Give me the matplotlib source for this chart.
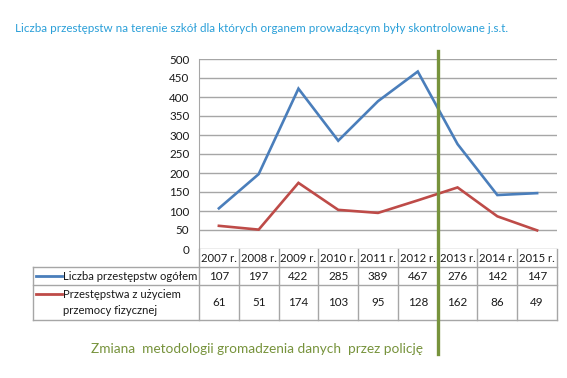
import matplotlib.pyplot as plt
from matplotlib.transforms import blended_transform_factory

# dane
lata = ['2007 r.', '2008 r.', '2009 r.', '2010 r.', '2011 r.', '2012 r.', '2013 r.', '2014 r.', '2015 r.']
ogolem = [107, 197, 422, 285, 389, 467, 276, 142, 147]
przemoc = [61, 51, 174, 103, 95, 128, 162, 86, 49]
nazwy = ['Liczba przestępstw ogółem', 'Przestępstwa z użyciem\nprzemocy fizycznej']
kolory = ['#4A7EBB', '#BE4B48']

tytul = 'Liczba przestępstw na terenie szkół dla których organem prowadzącym były skontrolowane j.s.t.'
podpis = 'Zmiana  metodologii gromadzenia danych  przez policję'

plt.rcParams['font.family'] = ['Lato', 'DejaVu Sans']

W, H = 567, 378
fig = plt.figure(figsize=(W / 100, H / 100), dpi=100)

# obszar wykresu w pikselach
x0, x1, ytop, ybot = 199, 557, 59, 249
ax = fig.add_axes([x0 / W, 1 - ybot / H, (x1 - x0) / W, (ybot - ytop) / H])
n = len(lata)
xs = list(range(n))
ax.plot(xs, ogolem, color=kolory[0], lw=1.9, solid_joinstyle='miter')
ax.plot(xs, przemoc, color=kolory[1], lw=1.9, solid_joinstyle='miter')
ax.set_xlim(-0.5, n - 0.5)
ax.set_ylim(0, 500)
ax.set_yticks(range(0, 501, 50))
ax.set_xticks([])
ax.grid(axis='y', color='#A6A6A6', lw=1.0)
ax.set_axisbelow(True)
for s in ['top', 'right', 'bottom']:
    ax.spines[s].set_visible(False)
ax.spines['left'].set_color('#A6A6A6')
ax.tick_params(axis='y', length=0, pad=7, labelsize=8.4, labelcolor='#1A1A1A')

# tabela pod wykresem
tr = blended_transform_factory(ax.transData, fig.transFigure)
def fy(py):
    return 1 - py / H
def fx(px):
    return px / W

szary = '#A6A6A6'
tekst = '#1A1A1A'
fs = 8.1
y_h, y_r1, y_r2, y_end = 249, 267, 285, 320
lx0 = 33

# linie poziome
for py in [y_r1, y_r2, y_end]:
    fig.add_artist(plt.Line2D([fx(lx0), fx(x1)], [fy(py), fy(py)], color=szary, lw=1.0))
# linie pionowe
for i in range(n + 1):
    fig.add_artist(plt.Line2D([i - 0.5, i - 0.5], [fy(y_h), fy(y_end)], color=szary, lw=1.0, transform=tr))
fig.add_artist(plt.Line2D([fx(lx0), fx(lx0)], [fy(y_r1), fy(y_end)], color=szary, lw=1.0))

# naglowki i wartosci
for i in range(n):
    fig.text(i, fy((y_h + y_r1) / 2), lata[i], transform=tr, ha='center', va='center', fontsize=fs, color=tekst)
    fig.text(i, fy((y_r1 + y_r2) / 2), str(ogolem[i]), transform=tr, ha='center', va='center', fontsize=fs + 0.3, color=tekst)
    fig.text(i, fy((y_r2 + y_end) / 2), str(przemoc[i]), transform=tr, ha='center', va='center', fontsize=fs + 0.3, color=tekst)

# etykiety wierszy z kluczem legendy
fig.add_artist(plt.Line2D([fx(36), fx(62)], [fy(276), fy(276)], color=kolory[0], lw=2.0))
fig.text(fx(63), fy(276), nazwy[0], ha='left', va='center', fontsize=fs, color=tekst)
fig.add_artist(plt.Line2D([fx(36), fx(62)], [fy(294), fy(294)], color=kolory[1], lw=2.0))
fig.text(fx(63), fy(302.5), nazwy[1], ha='left', va='center', fontsize=fs, color=tekst, linespacing=1.5)

# linia zmiany metodologii
fig.add_artist(plt.Line2D([5.5, 5.5], [fy(51), fy(354)], color='#77933C', lw=2.4, transform=tr))

fig.text(fx(15), fy(28), tytul, ha='left', va='center', fontsize=8.4, color='#2A9FD8')
fig.text(fx(91), fy(349), podpis, ha='left', va='center', fontsize=9.8, color='#77933C')

fig.savefig('out.png', dpi=100)
